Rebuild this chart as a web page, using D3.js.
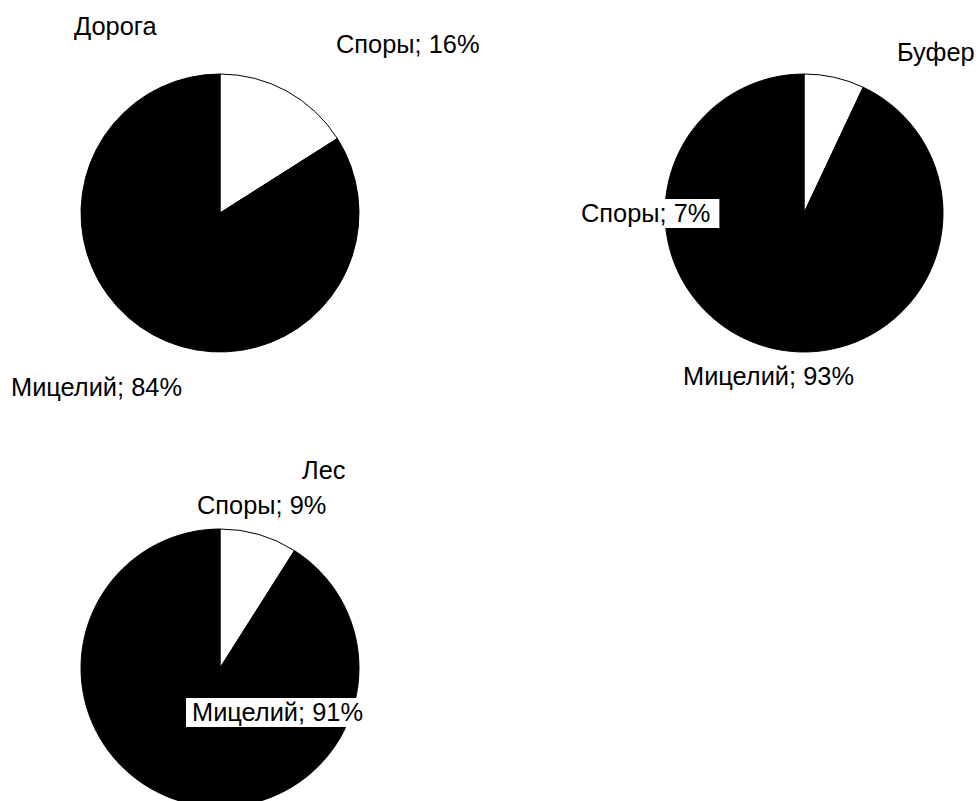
<!DOCTYPE html>
<html>
<head>
<meta charset="utf-8">
<script src="https://cdn.jsdelivr.net/npm/d3@7"></script>
<style>
  html, body { margin: 0; padding: 0; background: #fff; }
  svg { display: block; }
  text { font-family: "Liberation Sans", Arial, sans-serif; font-size: 25.4px; fill: #000; }
</style>
</head>
<body>
<svg id="chart" width="980" height="801"></svg>
<script>
// Sites and the share of spores vs mycelium at each, %
const sites = ["Дорога", "Буфер", "Лес"];
const components = ["Споры", "Мицелий"];
const sporesPct = [16, 7, 9];
const myceliumPct = [84, 93, 91];

// Panel layout: pie centre, title and label positions
const panels = [
  { cx: 220, cy: 213, title: [74, 35],
    labels: [{ x: 336, y: 53, box: false }, { x: 11, y: 396, box: false }] },
  { cx: 804, cy: 213, title: [897, 61],
    labels: [{ x: 581, y: 222, box: true }, { x: 683, y: 385, box: false }] },
  { cx: 220, cy: 668, title: [302, 479],
    labels: [{ x: 197, y: 514, box: false }, { x: 192, y: 721, box: true }] }
];
const radius = 139;
const fills = d3.scaleOrdinal().domain(components).range(["#ffffff", "#000000"]);

const svg = d3.select("#chart");
svg.append("rect").attr("width", 980).attr("height", 801).attr("fill", "#fff");

const pie = d3.pie().sort(null).value(d => d.value);
const arc = d3.arc().innerRadius(0).outerRadius(radius);

sites.forEach((site, i) => {
  const p = panels[i];
  const data = [
    { name: components[0], value: sporesPct[i] },
    { name: components[1], value: myceliumPct[i] }
  ];
  const g = svg.append("g").attr("transform", `translate(${p.cx},${p.cy})`);
  g.selectAll("path")
    .data(pie(data))
    .join("path")
    .attr("d", arc)
    .attr("fill", d => fills(d.data.name))
    .attr("stroke", "#000")
    .attr("stroke-width", 1);

  svg.append("text")
    .attr("x", p.title[0]).attr("y", p.title[1])
    .text(site);

  data.forEach((d, j) => {
    const l = p.labels[j];
    const t = svg.append("text")
      .attr("x", l.x).attr("y", l.y)
      .text(`${d.name}; ${d.value}%`);
    if (l.box) {
      const w = t.node().getComputedTextLength();
      svg.insert("rect", () => t.node())
        .attr("x", l.x - 6).attr("y", l.y - 23)
        .attr("width", w + 15).attr("height", 29)
        .attr("fill", "#fff");
    }
  });
});
</script>
</body>
</html>
